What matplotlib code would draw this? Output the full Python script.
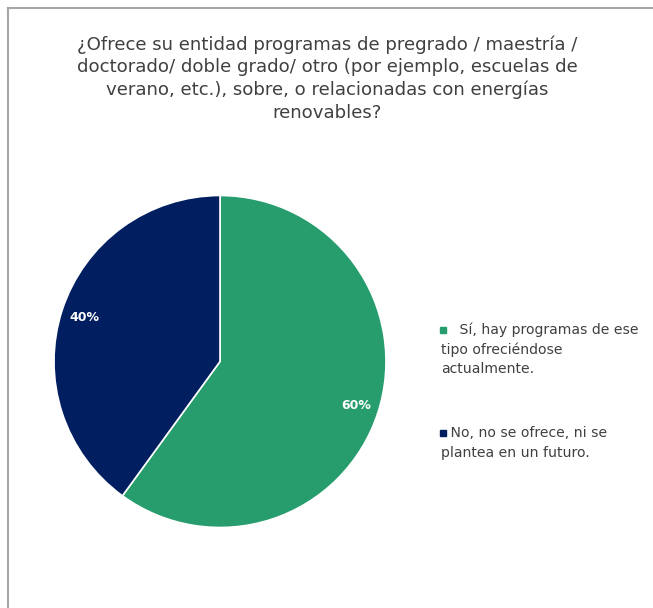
import matplotlib
matplotlib.use("Agg")
import matplotlib.pyplot as plt
from matplotlib.lines import Line2D
from matplotlib.patches import Rectangle

title = ("¿Ofrece su entidad programas de pregrado / maestría /\n"
         "doctorado/ doble grado/ otro (por ejemplo, escuelas de\n"
         "verano, etc.), sobre, o relacionadas con energías\n"
         "renovables?")
categories = ["Sí, hay programas de ese tipo ofreciéndose actualmente.",
              "No, no se ofrece, ni se plantea en un futuro."]
legend_lines = [["   Sí, hay programas de ese", "tipo ofreciéndose", "actualmente."],
                [" No, no se ofrece, ni se", "plantea en un futuro."]]
values = [60, 40]
colors = ["#279D6E", "#001E60"]

W, H = 653, 608
plt.rcParams["font.family"] = ["DejaVu Sans"]
fig = plt.figure(figsize=(W / 100, H / 100), dpi=100)

# frame of the original slide (only top and left edges visible)
fig.add_artist(Line2D([7.5 / W, 1.0], [1 - 7.5 / H, 1 - 7.5 / H], color="#A6A6A6", lw=1.5))
fig.add_artist(Line2D([7.5 / W, 7.5 / W], [0.0, 1 - 7.5 / H], color="#A6A6A6", lw=1.5))

fig.text(327 / W, 1 - 35 / H, title, ha="center", va="top", fontsize=13.1,
         color="#404040", linespacing=1.33)

cx, cy, r = 220, 361.5, 166
ax = fig.add_axes([(cx - r) / W, (H - cy - r) / H, 2 * r / W, 2 * r / H])
wedges, _, autotexts = ax.pie(values, colors=colors, startangle=90, counterclock=False,
                              autopct="%1.0f%%", pctdistance=0.86,
                              wedgeprops=dict(edgecolor="white", linewidth=1.2))
for t in autotexts:
    t.set_color("white")
    t.set_fontweight("bold")
    t.set_fontsize(9)
ax.set_xlim(-1.0, 1.0)
ax.set_ylim(-1.0, 1.0)
ax.set_aspect("equal")

# legend with hanging lines like the original
starts = [330, 433]
for lines, y0, col in zip(legend_lines, starts, colors):
    fig.add_artist(Rectangle((440 / W, 1 - (y0 + 3) / H), 6 / W, 6 / H, color=col))
    for i, line in enumerate(lines):
        fig.text(441 / W if i else 446 / W, 1 - (y0 + i * 19.5) / H, line,
                 ha="left", va="center", fontsize=10.1, color="#404040")

fig.savefig("out.png", dpi=100, facecolor="white")
